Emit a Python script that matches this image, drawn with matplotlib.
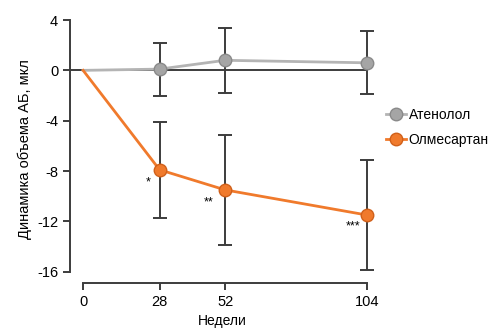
import matplotlib
matplotlib.use("Agg")
import matplotlib.pyplot as plt

weeks = [0, 28, 52, 104]
atenolol = [0.0, 0.1, 0.8, 0.6]
atenolol_err = [0.0, 2.1, 2.6, 2.5]
olmesartan = [0.0, -7.9, -9.5, -11.5]
olmesartan_err = [0.0, 3.8, 4.35, 4.4]
stars = ["*", "**", "***"]
star_x = [24, 46, 99]
star_y = [-8.9, -10.5, -12.4]
yticks = [4, 0, -4, -8, -12, -16]

plt.rcParams["font.family"] = ["Liberation Sans", "DejaVu Sans"]
plt.rcParams["axes.unicode_minus"] = False

fig = plt.figure(figsize=(4.94, 3.31), dpi=100)
ax = fig.add_axes([70 / 494, 48 / 331, 305 / 494, 268 / 331])

dark = "#3c3c3c"
xmin, xmax = -4.8, 106.9
ax.hlines(0, xmin, weeks[-1], color=dark, lw=1.4, zorder=1)

ax.errorbar(weeks[1:], atenolol[1:], yerr=atenolol_err[1:], fmt="none",
            ecolor=dark, elinewidth=1.4, capsize=5, capthick=1.4, zorder=2)
ax.errorbar(weeks[1:], olmesartan[1:], yerr=olmesartan_err[1:], fmt="none",
            ecolor=dark, elinewidth=1.4, capsize=5, capthick=1.4, zorder=2)

ax.plot(weeks, atenolol, color="#b4b4b4", lw=2, zorder=3)
ax.plot(weeks[1:], atenolol[1:], "o", ms=9, mfc="#a5a5a5", mec="#8a8a8a",
        mew=1, zorder=4)
ax.plot(weeks, olmesartan, color="#f07a2c", lw=2, zorder=3)
ax.plot(weeks[1:], olmesartan[1:], "o", ms=9, mfc="#f07a2c", mec="#d0601a",
        mew=1, zorder=4)

for s, x, y in zip(stars, star_x, star_y):
    ax.text(x, y, s, ha="center", va="center", fontsize=9)

ax.set_xlim(xmin, xmax)
ax.set_ylim(-16.9, 4.4)
ax.set_xticks(weeks)
ax.set_yticks(yticks)
ax.spines["left"].set_bounds(-16, 4)
ax.spines["bottom"].set_bounds(0, 104)
for side in ["top", "right"]:
    ax.spines[side].set_visible(False)
for side in ["left", "bottom"]:
    ax.spines[side].set_color(dark)
    ax.spines[side].set_linewidth(1.4)
ax.tick_params(colors="black", labelsize=10.5, length=5, width=1.4, direction="out")
ax.tick_params(axis="both", color=dark)

ax.set_xlabel("Недели", fontsize=10, labelpad=4)
ax.set_ylabel("Динамика объема АБ, мкл", fontsize=10.5, labelpad=4)

h1, = ax.plot([], [], "-o", color="#b4b4b4", lw=2, ms=9, mfc="#a5a5a5", mec="#8a8a8a")
h2, = ax.plot([], [], "-o", color="#f07a2c", lw=2, ms=9, mfc="#f07a2c", mec="#d0601a")
fig.legend([h1, h2], ["Атенолол", "Олмесартан"], loc="upper left",
           bbox_to_anchor=(380 / 494, 1 - 102 / 331), frameon=False,
           fontsize=10, handlelength=1.5, handletextpad=0.15, borderaxespad=0,
           labelspacing=0.8)

fig.savefig("out.png", dpi=100)
